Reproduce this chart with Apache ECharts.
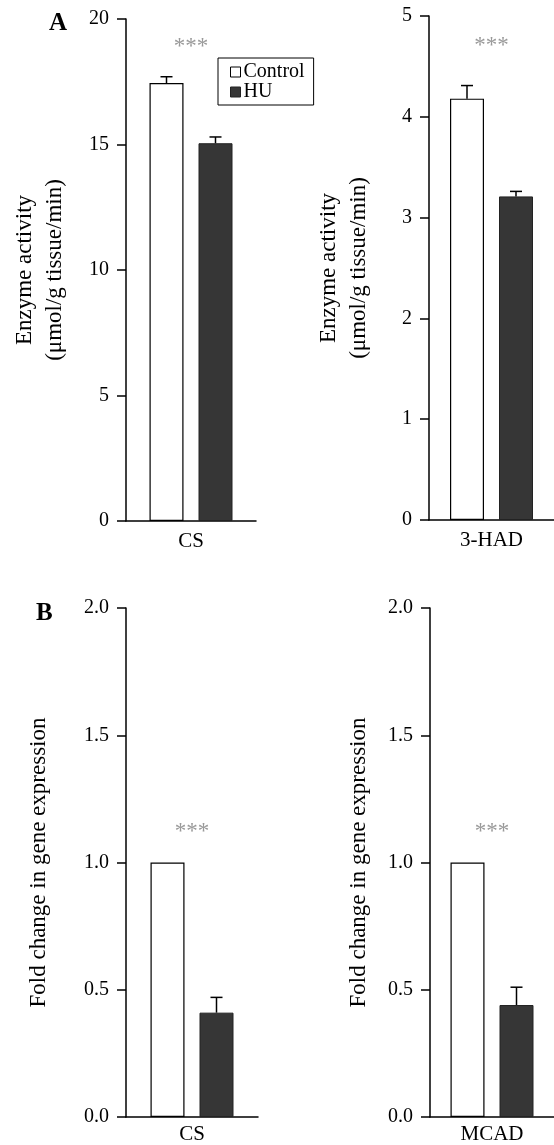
<!DOCTYPE html>
<html>
<head>
<meta charset="utf-8">
<script src="https://cdn.jsdelivr.net/npm/echarts@6/dist/echarts.min.js"></script>
<style>
html,body{margin:0;padding:0;background:#fff;}
#chart{width:554px;height:1145px;}
</style>
</head>
<body>
<div id="chart"></div>
<script>
// ---- data ----
const panelCategories = [['CS'], ['3-HAD'], ['CS'], ['MCAD']];
const controlMean = [17.45, 4.18, 1.0, 1.0];
const controlErr  = [0.25, 0.13, 0, 0];
const huMean      = [15.05, 3.21, 0.41, 0.44];
const huErr       = [0.25, 0.05, 0.06, 0.07];
const sigLabel    = ['***', '***', '***', '***'];
const sigValue    = [18.9, 4.7, 1.12, 1.12];
const yMax        = [20, 5, 2, 2];
const yStep       = [5, 1, 0.5, 0.5];
const yNames = [
  'Enzyme activity\n(μmol/g tissue/min)',
  'Enzyme activity\n(μmol/g tissue/min)',
  'Fold change in gene expression',
  'Fold change in gene expression'
];

// ---- layout / style ----
const FONT = '"Liberation Serif", "DejaVu Serif", serif';
const grids = [
  {left: 126, top: 19, width: 130, height: 502},
  {left: 429, top: 16, width: 125, height: 504},
  {left: 126, top: 608, width: 132, height: 509},
  {left: 430, top: 608, width: 124, height: 509}
];
const nameGaps = [56, 55, 72, 56];
const decimals = [0, 0, 1, 1];
const BAR_W = 34, BAR_GAP = 15;
const OFF = (BAR_W + BAR_GAP) / 2;
const HU_COLOR = '#363636';

const xAxes = [], yAxes = [], series = [];
grids.forEach((g, i) => {
  xAxes.push({
    type: 'category', gridIndex: i, data: panelCategories[i],
    axisLine: {lineStyle: {color: '#000', width: 1.5}},
    axisTick: {show: false},
    axisLabel: {color: '#000', fontFamily: FONT, fontSize: 21, margin: i < 2 ? 10 : 7}
  });
  yAxes.push({
    type: 'value', gridIndex: i, min: 0, max: yMax[i], interval: yStep[i],
    name: yNames[i], nameLocation: 'middle', nameGap: nameGaps[i], nameRotate: 90,
    nameTextStyle: {color: '#000', fontFamily: FONT, fontSize: 23, lineHeight: 30},
    axisLine: {show: true, lineStyle: {color: '#000', width: 1.5}},
    axisTick: {show: true, length: 9, lineStyle: {color: '#000', width: 1.5}},
    splitLine: {show: false},
    axisLabel: {color: '#000', fontFamily: FONT, fontSize: 20, margin: 17,
      formatter: v => v.toFixed(decimals[i])}
  });
  series.push({
    name: 'Control', type: 'bar', xAxisIndex: i, yAxisIndex: i,
    barWidth: BAR_W, barGap: (BAR_GAP / BAR_W * 100) + '%',
    itemStyle: {color: '#fff', borderColor: '#000', borderWidth: 1.2},
    data: [controlMean[i]]
  });
  series.push({
    name: 'HU', type: 'bar', xAxisIndex: i, yAxisIndex: i,
    barWidth: BAR_W, barGap: (BAR_GAP / BAR_W * 100) + '%',
    itemStyle: {color: HU_COLOR, borderColor: '#222', borderWidth: 1},
    data: [huMean[i]]
  });
  [[controlMean, controlErr, -OFF], [huMean, huErr, OFF]].forEach(([m, e, off]) => {
    series.push({
      type: 'custom', xAxisIndex: i, yAxisIndex: i, z: 5, silent: true,
      data: [[0, m[i], e[i]]],
      renderItem: (params, api) => {
        const err = api.value(2);
        if (!err) return null;
        const x = api.coord([api.value(0), 0])[0] + off;
        const yb = api.coord([api.value(0), api.value(1)])[1];
        const yt = api.coord([api.value(0), api.value(1) + err])[1];
        const st = {stroke: '#000', lineWidth: 1.5};
        return {type: 'group', children: [
          {type: 'line', shape: {x1: x, y1: yb, x2: x, y2: yt}, style: st},
          {type: 'line', shape: {x1: x - 6, y1: yt, x2: x + 6, y2: yt}, style: st}
        ]};
      }
    });
  });
  series.push({
    type: 'scatter', xAxisIndex: i, yAxisIndex: i, symbolSize: 0, silent: true,
    data: [[0, sigValue[i]]],
    label: {show: true, position: 'inside', formatter: sigLabel[i],
      color: '#808080', fontFamily: FONT, fontSize: 23}
  });
});

const option = {
  backgroundColor: '#fff',
  animation: false,
  grid: grids,
  xAxis: xAxes,
  yAxis: yAxes,
  legend: {
    left: 218, top: 58, orient: 'vertical',
    data: [
      {name: 'Control', itemStyle: {color: '#fff', borderColor: '#000', borderWidth: 1}},
      {name: 'HU', itemStyle: {color: HU_COLOR, borderColor: '#222', borderWidth: 1}}
    ],
    icon: 'rect', itemWidth: 10, itemHeight: 10, itemGap: 0,
    padding: [4, 9, 3, 12], borderColor: '#000', borderWidth: 1,
    selectedMode: false,
    textStyle: {color: '#000', fontFamily: FONT, fontSize: 20, lineHeight: 20, padding: [0, 0, 0, -2]}
  },
  graphic: [
    {type: 'text', left: 49, top: 11, style: {text: 'A', font: 'bold 25px ' + FONT, fill: '#000'}},
    {type: 'text', left: 36, top: 601, style: {text: 'B', font: 'bold 25px ' + FONT, fill: '#000'}}
  ],
  series: series
};
const chart = echarts.init(document.getElementById('chart'), null, {renderer: 'canvas'});
chart.setOption(option);
</script>
</body>
</html>
